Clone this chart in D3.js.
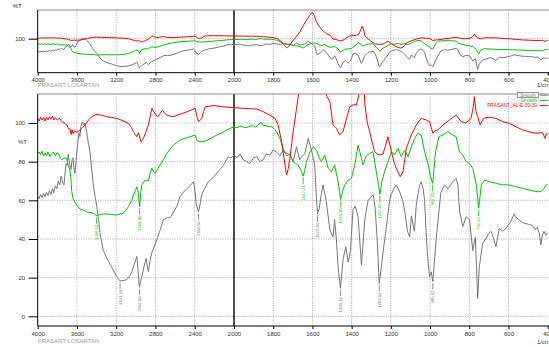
<!DOCTYPE html>
<html><head><meta charset="utf-8">
<script src="https://cdn.jsdelivr.net/npm/d3@7"></script>
<style>
body{margin:0;background:#fff;}
svg{display:block;font-family:"Liberation Sans",Arial,sans-serif;}
</style></head><body>
<svg id="chart" width="549" height="347"></svg>
<script>
// ---------- DATA (wavenumber 1/cm, %T) ----------
const graySeries = [
[4000,62],[3985,61],[3970,63],[3955,61.5],[3940,63.5],[3925,62],[3910,64],[3895,62.5],[3880,65],[3865,63],[3850,66],[3835,64],[3820,67.5],[3805,66],[3790,70],[3775,68],[3760,72.5],[3745,69],[3732,68],[3720,75],[3711,79],[3700,78],[3688,84],[3675,79],[3660,76],[3650,81],[3640,82],[3630,76],[3620,74],[3610,80],[3600,86],[3590,90],[3580,95],[3570,93],[3560,98],[3545,100.5],[3530,99],[3518,100],[3500,95],[3485,90],[3467,85],[3450,76],[3433,68],[3415,62],[3398,57],[3380,50],[3365,43],[3331,34],[3300,30.5],[3263,27],[3230,24],[3194,20.5],[3161,18.3],[3130,18.5],[3092,19],[3060,21],[3041,23],[3015,27],[2990,31],[2975,22],[2964,15],[2952,18],[2939,20.5],[2915,26],[2895,30],[2883,26],[2872,23],[2855,29],[2837,33],[2786,39.5],[2750,45],[2719,50],[2680,51],[2651,51],[2615,54],[2582,57],[2549,62],[2520,64],[2480,66],[2440,68],[2413,69.6],[2400,66],[2385,58],[2362,54],[2345,58],[2330,63],[2300,66],[2262,69.6],[2210,72],[2160,75],[2110,78],[2058,82.6],[2030,82],[2000,83.4],
[1985,82],[1970,84],[1953,81],[1935,80],[1919,79],[1900,82],[1884,82.6],[1868,80],[1851,81],[1835,84],[1817,83.4],[1800,86],[1783,85],[1765,83],[1749,86],[1730,83],[1715,84],[1698,80],[1681,87.7],[1665,81],[1655,82.6],[1639,84],[1622,92],[1605,86],[1588,78],[1580,62],[1574,53],[1565,56],[1555,63],[1546,68],[1530,60],[1511,44.6],[1495,41],[1487,50],[1478,40],[1469,25.7],[1457,14.5],[1443,30],[1430,36],[1418,28],[1406,34],[1393,55],[1381,57],[1367,51.5],[1350,26.5],[1340,40],[1333,50],[1316,60],[1307,61],[1290,63],[1280,56],[1270,40],[1259,17],[1248,26],[1240,33],[1223,46],[1206,60],[1198,63],[1185,66],[1172,68],[1155,64.5],[1140,60],[1130,55],[1115,44],[1104,41],[1095,52],[1080,44],[1070,58],[1053,68],[1045,69.6],[1035,66],[1028,60],[1020,43],[1010,28],[1003,20.5],[994,23],[986,18],[978,28],[969,39.5],[955,54],[945,64],[926,68],[909,66],[884,69.6],[867,71.4],[858,68],[850,55],[833,46.4],[816,51.5],[799,50],[782,34],[769,41],[757,9.3],[749,25.6],[732,37.7],[714,40.4],[700,43],[689,44],[675,40],[664,36],[647,45.5],[630,44],[613,45.5],[588,49],[571,53],[560,51],[546,50],[530,48.5],[512,48],[495,47.5],[478,47],[465,45],[453,46],[443,43],[435,37],[427,42],[419,44],[410,42],[400,43]
];
const greenSeries = [
[4000,84.3],[3985,85],[3970,83.5],[3955,85.5],[3943,83],[3925,84.5],[3910,83],[3895,85],[3875,82.6],[3860,84],[3840,85],[3820,83],[3805,84.5],[3790,84.3],[3770,82],[3755,81],[3730,82],[3704,81.7],[3688,78],[3671,75.7],[3660,70],[3653,64.5],[3640,61],[3620,59],[3600,57.5],[3569,55.5],[3535,55],[3500,54],[3467,53.8],[3433,53.3],[3400,52],[3350,52.8],[3296,53],[3250,52.6],[3194,52.4],[3160,53],[3127,53.3],[3100,55],[3076,56.7],[3041,60],[3025,62.8],[3005,65],[2990,67],[2975,64],[2962,56.7],[2950,64],[2939,68],[2905,70.5],[2872,70],[2855,74],[2837,76.5],[2820,75],[2803,74],[2780,76],[2752,78.3],[2720,81],[2684,84.3],[2650,86.5],[2617,88.6],[2549,91.2],[2480,92.4],[2440,93],[2396,93.8],[2378,91],[2345,90.3],[2310,90.5],[2276,91],[2220,92.5],[2174,93.8],[2120,95],[2072,96.4],[2005,98],
[1985,97.5],[1969,98.5],[1950,97.8],[1935,97.6],[1918,98.4],[1902,98.6],[1890,97.8],[1876,99.3],[1859,100.4],[1850,98.5],[1842,98.8],[1825,98.2],[1808,98],[1795,97],[1783,95.5],[1766,92],[1750,87],[1740,85],[1725,84],[1715,83.4],[1698,80],[1685,79],[1673,78.3],[1660,76],[1647,72.5],[1638,76],[1630,80],[1613,85],[1596,87.7],[1579,86],[1565,82],[1554,80],[1537,83.4],[1520,76.5],[1503,74.8],[1487,78.3],[1469,69.6],[1456,60.5],[1445,65],[1435,68],[1418,70.5],[1401,71.4],[1384,78.3],[1367,88.6],[1350,81.7],[1342,78.3],[1325,83],[1308,84.3],[1291,85.2],[1274,74.8],[1263,68],[1256,63],[1245,70],[1232,74.8],[1215,80],[1197,85.2],[1181,83.4],[1164,86.9],[1147,82.6],[1130,86],[1112,82.6],[1095,87.7],[1079,92],[1062,94.7],[1045,93.8],[1028,85.2],[1011,79.1],[999,73.1],[987,68.8],[980,76],[972,85.2],[955,92.9],[934,93.8],[909,95.5],[884,93.8],[867,92.9],[850,85.2],[833,83.4],[816,80],[799,79.1],[782,76.5],[764,68],[752,56],[745,62],[739,68],[722,70.5],[697,69.6],[680,69.2],[663,68.8],[629,68],[595,68],[561,67],[528,66.2],[494,65.3],[460,64.5],[434,64.5],[420,66],[409,68],[400,68]
];
const redSeries = [
[4000,102.4],[3985,101],[3970,103],[3955,101.5],[3940,102.8],[3925,101],[3910,103],[3895,101.5],[3880,103.2],[3865,102],[3850,103.5],[3835,101.5],[3820,102.8],[3800,101.5],[3780,102.5],[3755,100.7],[3730,100],[3704,99],[3685,97],[3670,97],[3660,94],[3650,96.5],[3640,94.5],[3625,96],[3602,95.2],[3585,95.8],[3569,96.4],[3545,97.5],[3518,99],[3490,101],[3467,102.4],[3430,103.8],[3398,104.5],[3350,104],[3296,103.3],[3250,102.8],[3194,102.4],[3130,101.2],[3076,99.8],[3050,98],[3025,95.5],[3005,94],[2990,92.9],[2974,95],[2949,90.3],[2935,91],[2923,92],[2900,95],[2872,99],[2855,103],[2837,107.6],[2820,106],[2803,105],[2785,103.5],[2770,103.5],[2750,105],[2729,106.7],[2705,105],[2684,104.1],[2650,103.5],[2617,103.3],[2550,104.5],[2480,105.8],[2430,106.8],[2396,107.6],[2378,103.3],[2362,100.7],[2345,101.5],[2327,102.4],[2310,106],[2294,108.4],[2209,109],[2107,108.4],[2005,107.9],
[1953,107.6],[1920,107.4],[1884,107.2],[1865,106.5],[1851,105.8],[1817,104.1],[1791,102.4],[1775,99],[1757,90.3],[1740,78.3],[1732,73.1],[1724,76],[1715,81.7],[1698,95.5],[1681,107.6],[1664,120],[1650,135],[1635,150],[1625,158],[1615,168],[1605,175],[1598,176],[1590,168],[1580,150],[1570,140],[1555,128],[1540,120],[1528,114],[1511,111],[1495,99],[1477,97.3],[1461,93.8],[1444,95.5],[1426,102.4],[1410,108.3],[1390,109.5],[1376,109.3],[1362,115],[1352,128],[1347,137],[1340,128],[1333,110],[1320,100],[1308,95.5],[1295,90],[1283,85.2],[1270,84],[1257,83.4],[1240,84],[1228,88],[1215,92.9],[1197,85.2],[1185,80],[1172,76.5],[1152,72.2],[1138,74.8],[1121,86.9],[1096,93.8],[1070,99],[1045,102.4],[1019,101.5],[1002,100.7],[986,94.7],[975,96],[960,96.5],[934,99],[900,101.6],[867,104.1],[841,100.7],[816,100],[791,102.4],[780,108],[774,113.6],[766,106],[757,103.3],[745,99],[728,102.4],[697,103],[663,102.4],[629,100.7],[595,99.8],[561,98],[528,96.4],[494,95.5],[460,94.7],[426,95],[414,92],[408,94.5],[400,93.8]
];
const greenPeaks = [[3400,52,"3400.50"],[2962,56.7,"2958.80"],[1647,72.5,"1647.21"],[1456,60.5,"1456.16"],[1256,63,"1257.59"],[987,68.8,"987.55"],[752,56,"752.24"]];
const grayPeaks = [[3161,18.3,"3161.33"],[2964,15,"2962.66"],[2362,54,"2360.87"],[1574,53,"1575.84"],[1457,14.5,"1456.16"],[1259,17,"1259.52"],[986,18,"985.62"]];
const xTickLabels = [4000,3600,3200,2800,2400,2000,1800,1600,1400,1200,1000,800,600,400];
const xGridValues = [3600,3200,2800,2400,1800,1600,1400,1200,1000,800,600];
const yBotLabels = [0,20,40,60,80,100];
const yTopLabels = [100];
const legendItems = [["Smooth","#777"],["Smooth","#00c400"],["PRASANT_AL-E-30-30","#ff0000"]];

// ---------- DRAW ----------
const svg = d3.select("#chart");
const X0 = 37.7, XR = 549;
const x = d3.scaleLinear().domain([4000,2000,400]).range([X0,234,547.7]);
const yTop = d3.scaleLinear().domain([0,184.4]).range([72.7,10]);
const yBot = d3.scaleLinear().domain([-5,115]).range([326,94]);
const xMinor = d3.range(4000,2000,-80).concat(d3.range(2000,399,-40));
const colors = {gray:"#777777", green:"#00c400", red:"#ff0000"};

function panel(y, id, yMajor, yMinor, labPad, nameOff, name){
  const [yb, yt] = y.range();
  const g = svg.append("g");
  svg.append("clipPath").attr("id",id).append("rect")
    .attr("x",X0).attr("y",yt).attr("width",XR-X0).attr("height",yb-yt);
  g.selectAll(".vg").data(xGridValues).join("line")
    .attr("x1",d=>x(d)).attr("x2",d=>x(d)).attr("y1",yt).attr("y2",yb)
    .attr("stroke","#aaa").attr("stroke-width",0.9).attr("stroke-dasharray","1.2,1.2");
  g.selectAll(".hg").data(yMajor).join("line")
    .attr("x1",X0).attr("x2",XR).attr("y1",d=>y(d)).attr("y2",d=>y(d))
    .attr("stroke","#aaa").attr("stroke-width",0.9).attr("stroke-dasharray","1.2,1.2");
  g.append("line").attr("x1",x(2000)).attr("x2",x(2000)).attr("y1",yt).attr("y2",yb)
    .attr("stroke","#000").attr("stroke-width",1.4);
  const line = d3.line().x(d=>x(d[0])).y(d=>y(d[1]));
  const sg = g.append("g").attr("clip-path",`url(#${id})`);
  [[graySeries,colors.gray],[greenSeries,colors.green],[redSeries,colors.red]].forEach(([s,c])=>{
    sg.append("path").datum(s).attr("d",line).attr("fill","none").attr("stroke",c).attr("stroke-width",1);
  });
  g.append("line").attr("x1",X0).attr("x2",XR).attr("y1",yt).attr("y2",yt).attr("stroke","#8a8a8a").attr("stroke-width",1.2);
  const ax = g.append("g").attr("transform",`translate(0,${yb})`);
  ax.call(d3.axisBottom(x).tickValues(xMinor).tickSize(3).tickFormat(""));
  ax.call(d3.axisBottom(x).tickValues(xTickLabels).tickSize(3).tickPadding(labPad).tickFormat(d3.format("d")));
  ax.selectAll("path").remove();
  ax.selectAll("text").attr("font-size",6).attr("fill","#333").attr("font-family","Liberation Sans, Arial, sans-serif");
  g.append("line").attr("x1",X0).attr("x2",XR).attr("y1",yb).attr("y2",yb).attr("stroke","#000").attr("stroke-width",1);
  const ay = g.append("g").attr("transform",`translate(${X0},0)`);
  ay.call(d3.axisLeft(y).tickValues(yMinor).tickSize(4).tickFormat(""));
  ay.call(d3.axisLeft(y).tickValues(yMajor).tickSize(9).tickPadding(3.5).tickFormat(d3.format("d")));
  ay.selectAll("path").remove();
  ay.selectAll("text").attr("font-size",6).attr("fill","#333").attr("font-family","Liberation Sans, Arial, sans-serif");
  g.append("line").attr("x1",X0).attr("x2",X0).attr("y1",yt).attr("y2",yb).attr("stroke","#000").attr("stroke-width",1);
  g.append("text").attr("x",X0).attr("y",yb+nameOff).attr("font-size",6).attr("fill","#9a9a9a").text(name);
  return g;
}

const gTop = panel(yTop,"clipTop",yTopLabels,d3.range(0,185,100/7),1.6,13.8,"PRASANT LOSARTAN");
const gBot = panel(yBot,"clipBot",yBotLabels,d3.range(-4,115,4),3.2,17.2,"PRASANT LOSARTAN");

svg.append("text").attr("x",12.7).attr("y",7.8).attr("font-size",6).attr("fill","#333").text("%T");
svg.append("text").attr("x",18).attr("y",143.8).attr("font-size",6).attr("fill","#333").text("%T");
svg.append("text").attr("x",537).attr("y",87).attr("font-size",6).attr("fill","#333").text("1/cm");
svg.append("text").attr("x",537).attr("y",343.5).attr("font-size",6).attr("fill","#333").text("1/cm");

function peaks(list,color){
  list.forEach(([w,t,lab])=>{
    const px = x(w), py = yBot(t);
    gBot.append("line").attr("x1",px).attr("x2",px).attr("y1",py+1.5).attr("y2",py+8)
      .attr("stroke",color).attr("stroke-width",0.8);
    gBot.append("text").attr("transform",`translate(${px},${py+9}) rotate(-90)`)
      .attr("text-anchor","end").attr("dominant-baseline","central")
      .attr("font-size",4.2).attr("fill",color).text(lab);
  });
}
peaks(greenPeaks,colors.green);
peaks(grayPeaks,colors.gray);

const lg = svg.append("g");
legendItems.forEach(([t,c],i)=>{
  const ly = 95.2 + i*5.2;
  if(i===0){
    lg.append("rect").attr("x",517.5).attr("y",ly-2.6).attr("width",21).attr("height",5)
      .attr("fill","#fff").attr("stroke","#777").attr("stroke-width",0.8);
    lg.append("text").attr("x",528).attr("y",ly).attr("text-anchor","middle").attr("dominant-baseline","central")
      .attr("font-size",4.5).attr("fill",c).text(t);
  } else {
    lg.append("text").attr("x",537).attr("y",ly).attr("text-anchor","end").attr("dominant-baseline","central")
      .attr("font-size",4.8).attr("fill",c).text(t);
  }
  lg.append("line").attr("x1",540).attr("x2",548).attr("y1",ly).attr("y2",ly).attr("stroke",c).attr("stroke-width",1);
});
</script>
</body></html>
